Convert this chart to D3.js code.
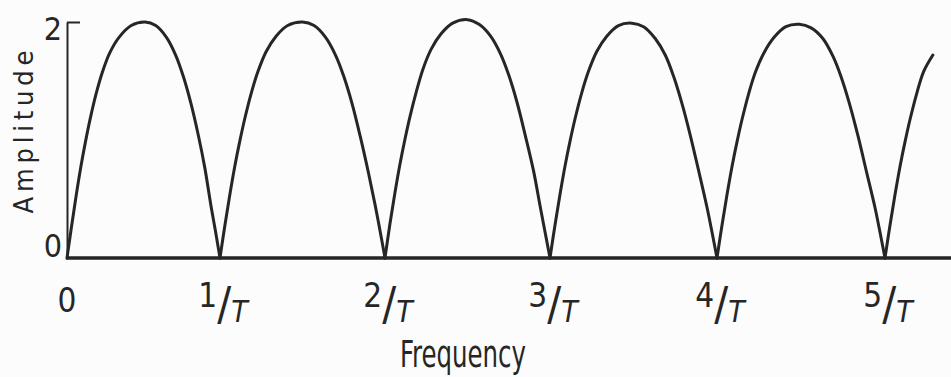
<!DOCTYPE html>
<html>
<head>
<meta charset="utf-8">
<script src="https://cdn.jsdelivr.net/npm/d3@7"></script>
<style>
  html, body { margin: 0; padding: 0; background: #fcfcfc; }
  svg { display: block; }
  text { font-family: "DejaVu Sans Condensed", "Liberation Sans Narrow", sans-serif; fill: #262626; }
</style>
</head>
<body>
<svg id="chart" width="951" height="377"></svg>
<script>
// Amplitude spectrum |A(f)|: frequency in units of 1/T, amplitude 0..2 (one row per lobe)
const frequency = [
  0, 0.03, 0.06, 0.09, 0.12, 0.15, 0.19, 0.23, 0.28, 0.34, 0.42, 0.51, 0.58, 0.65, 0.71, 0.76, 0.81, 0.86, 0.90, 0.94, 0.97, 1,
  1.03, 1.06, 1.09, 1.12, 1.15, 1.19, 1.23, 1.28, 1.34, 1.41, 1.50, 1.57, 1.64, 1.70, 1.75, 1.80, 1.85, 1.90, 1.94, 1.97, 2,
  2.03, 2.06, 2.09, 2.12, 2.15, 2.19, 2.23, 2.28, 2.34, 2.41, 2.50, 2.57, 2.64, 2.70, 2.75, 2.80, 2.85, 2.90, 2.94, 2.97, 3,
  3.03, 3.06, 3.09, 3.12, 3.15, 3.19, 3.23, 3.28, 3.34, 3.41, 3.49, 3.56, 3.63, 3.69, 3.74, 3.79, 3.84, 3.89, 3.94, 3.97, 4,
  4.03, 4.06, 4.09, 4.12, 4.15, 4.19, 4.23, 4.28, 4.34, 4.41, 4.49, 4.56, 4.63, 4.69, 4.74, 4.79, 4.84, 4.89, 4.94, 4.97, 5,
  5.03, 5.06, 5.09, 5.12, 5.15, 5.19, 5.23, 5.285
];
const amplitude = [
  0, 0.27, 0.53, 0.77, 0.98, 1.17, 1.39, 1.57, 1.74, 1.87, 1.97, 2.00, 1.97, 1.87, 1.72, 1.54, 1.31, 1.03, 0.77, 0.45, 0.23, 0,
  0.28, 0.54, 0.78, 0.99, 1.18, 1.40, 1.58, 1.75, 1.88, 1.97, 2.00, 1.97, 1.87, 1.72, 1.54, 1.31, 1.03, 0.72, 0.45, 0.23, 0,
  0.29, 0.55, 0.79, 1.00, 1.19, 1.41, 1.60, 1.77, 1.90, 1.99, 2.02, 1.98, 1.88, 1.73, 1.55, 1.32, 1.04, 0.74, 0.44, 0.22, 0,
  0.28, 0.54, 0.78, 0.99, 1.18, 1.40, 1.58, 1.75, 1.88, 1.97, 1.99, 1.96, 1.86, 1.72, 1.54, 1.31, 1.04, 0.74, 0.43, 0.22, 0,
  0.28, 0.54, 0.78, 0.99, 1.18, 1.40, 1.58, 1.74, 1.87, 1.96, 1.98, 1.95, 1.86, 1.71, 1.53, 1.30, 1.03, 0.73, 0.43, 0.22, 0,
  0.28, 0.54, 0.78, 0.99, 1.18, 1.40, 1.58, 1.72
];
const xTickValues = [0, 1, 2, 3, 4, 5];
const xTickLabels = ["0", "1/T", "2/T", "3/T", "4/T", "5/T"];
const yTickValues = [0, 2];
const yTickLabels = ["0", "2"];
const xTitle = "Frequency";
const yTitle = "Amplitude";

const width = 951, height = 377;
const ink = "#262626";
const svg = d3.select("#chart");

// hand-lettered axis: the lobes are not quite evenly spaced
const x = d3.scaleLinear()
  .domain([0, 1, 2, 3, 4, 5])
  .range([67, 220, 385, 550, 717, 885]);
const y = d3.scaleLinear().domain([0, 2]).range([258, 22]);

// split the series into separate lobes at each null so the cusps stay sharp
const lobes = [];
let current = [];
frequency.forEach((f, i) => {
  const p = [f, amplitude[i]];
  current.push(p);
  if (amplitude[i] === 0 && current.length > 1) {
    lobes.push(current);
    current = [p];
  }
});
if (current.length > 1) lobes.push(current);

const line = d3.line()
  .x(d => x(d[0]))
  .y(d => y(d[1]))
  .curve(d3.curveCatmullRom.alpha(0.5));

svg.append("g")
  .selectAll("path")
  .data(lobes)
  .join("path")
  .attr("d", line)
  .attr("fill", "none")
  .attr("stroke", ink)
  .attr("stroke-width", 3)
  .attr("stroke-linejoin", "round")
  .attr("stroke-linecap", "round");

// y axis: vertical rule with one inward tick at 2
const yAxis = d3.axisLeft(y)
  .tickValues(yTickValues)
  .tickSize(-13)
  .tickSizeOuter(0)
  .tickPadding(5)
  .tickFormat((d, i) => yTickLabels[i]);

const gy = svg.append("g")
  .attr("transform", `translate(${x(0)},0)`)
  .call(yAxis);
gy.select(".domain").attr("stroke", ink).attr("stroke-width", 2);
gy.selectAll(".tick line")
  .attr("stroke", ink)
  .attr("stroke-width", d => d === 0 ? 0 : 2);
gy.selectAll(".tick text")
  .attr("font-size", 32)
  .attr("font-family", null)
  .attr("fill", ink)
  .attr("dy", d => d === 0 ? "-0.05em" : "0.55em");

// baseline runs to the right edge
svg.append("line")
  .attr("x1", x(0) - 1)
  .attr("x2", width)
  .attr("y1", y(0))
  .attr("y2", y(0))
  .attr("stroke", ink)
  .attr("stroke-width", 3.5);

// x tick labels written as n/T with a raised numeral and lowered T
const xl = svg.append("g")
  .selectAll("text")
  .data(xTickValues)
  .join("text")
  .attr("x", d => x(d) + (d === 0 ? 0 : 3))
  .attr("y", d => d === 0 ? 312 : 307)
  .attr("text-anchor", "middle")
  .attr("font-size", 33);

xl.each(function(d, i) {
  const parts = xTickLabels[i].split("/");
  const t = d3.select(this);
  t.append("tspan").text(parts[0]);
  if (parts.length > 1) {
    t.append("tspan").attr("font-size", 46).attr("dy", 13).text("/");
    t.append("tspan").attr("font-size", 30).attr("font-style", "italic")
      .attr("dy", 2).text(parts[1]);
  }
});

// axis titles
svg.append("text")
  .attr("x", 463)
  .attr("y", 367)
  .attr("text-anchor", "middle")
  .attr("font-size", 38)
  .attr("textLength", 126)
  .attr("lengthAdjust", "spacingAndGlyphs")
  .text(xTitle);

svg.append("text")
  .attr("transform", "translate(33,132) rotate(-90)")
  .attr("text-anchor", "middle")
  .attr("font-size", 27)
  .attr("textLength", 163)
  .attr("lengthAdjust", "spacing")
  .text(yTitle);
</script>
</body>
</html>
